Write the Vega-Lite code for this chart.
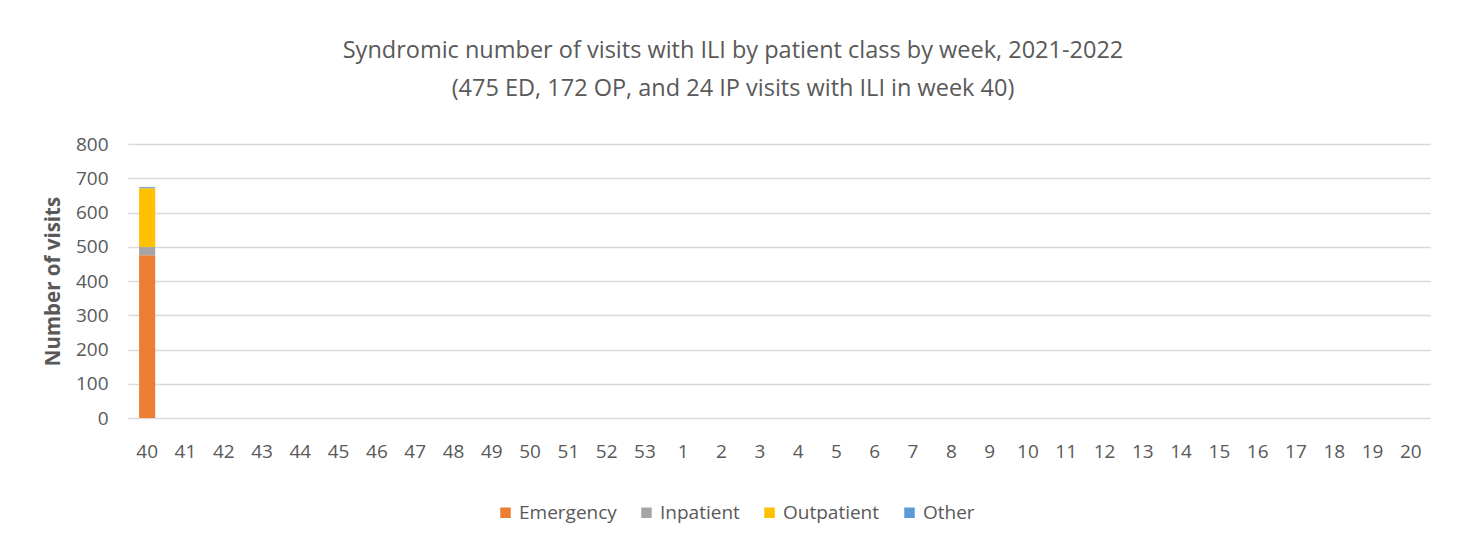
{
  "$schema": "https://vega.github.io/schema/vega-lite/v6.json",
  "width": 1302,
  "height": 274,
  "autosize": "none",
  "padding": {"left": 128, "top": 144, "right": 35, "bottom": 134},
  "background": "white",
  "config": {"view": {"stroke": null}, "font": "Open Sans"},
  "title": {
    "text": ["Syndromic number of visits with ILI by patient class by week, 2021-2022", "(475 ED, 172 OP, and 24 IP visits with ILI in week 40)"],
    "font": "Open Sans",
    "fontSize": 23.5,
    "fontWeight": "normal",
    "color": "#595959",
    "lineHeight": 38,
    "anchor": "middle",
    "dx": -46,
    "offset": 35
  },
  "data": {
    "values": [
      {"week": "40", "cls": "Emergency", "visits": 475},
      {"week": "40", "cls": "Inpatient", "visits": 24},
      {"week": "40", "cls": "Outpatient", "visits": 172},
      {"week": "40", "cls": "Other", "visits": 3}
    ]
  },
  "transform": [
    {"calculate": "indexof(['Emergency','Inpatient','Outpatient','Other'], datum.cls)", "as": "o"}
  ],
  "mark": {"type": "bar"},
  "encoding": {
    "x": {
      "field": "week",
      "type": "nominal",
      "scale": {
        "domain": ["40","41","42","43","44","45","46","47","48","49","50","51","52","53","1","2","3","4","5","6","7","8","9","10","11","12","13","14","15","16","17","18","19","20"],
        "paddingInner": 0.58,
        "paddingOuter": 0.29
      },
      "axis": {
        "title": null,
        "labelAngle": 0,
        "labelFont": "Open Sans",
        "labelFontSize": 19,
        "labelColor": "#595959",
        "labelPadding": 24,
        "ticks": false,
        "domain": false,
        "grid": false
      }
    },
    "y": {
      "field": "visits",
      "type": "quantitative",
      "stack": "zero",
      "scale": {"domain": [0, 800]},
      "axis": {
        "title": "Number of visits",
        "titleFont": "Open Sans",
        "titleFontSize": 20.5,
        "titleFontWeight": "bold",
        "titleColor": "#595959",
        "titlePadding": 12,
        "values": [0,100,200,300,400,500,600,700,800],
        "labelFont": "Open Sans",
        "labelFontSize": 19,
        "labelColor": "#595959",
        "labelPadding": 20,
        "ticks": false,
        "domain": false,
        "grid": true,
        "gridColor": "#d9d9d9",
        "gridWidth": 1.5
      }
    },
    "color": {
      "field": "cls",
      "type": "nominal",
      "scale": {
        "domain": ["Emergency", "Inpatient", "Outpatient", "Other"],
        "range": ["#ed7d31", "#a5a5a5", "#ffc000", "#5b9bd5"]
      },
      "legend": {
        "title": null,
        "orient": "none",
        "direction": "horizontal",
        "legendX": 368,
        "legendY": 359,
        "symbolType": "square",
        "symbolSize": 110,
        "symbolStrokeWidth": 0,
        "labelFont": "Open Sans",
        "labelFontSize": 19,
        "labelColor": "#595959",
        "labelOffset": 4,
        "columnPadding": 20
      }
    },
    "order": {"field": "o", "type": "quantitative"}
  }
}
